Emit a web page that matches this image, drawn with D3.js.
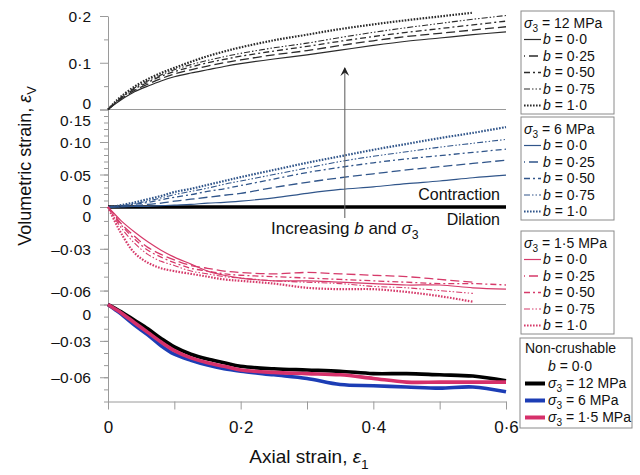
<!DOCTYPE html>
<html>
<head>
<meta charset="utf-8">
<script src="https://cdn.jsdelivr.net/npm/d3@7"></script>
<style>
body { margin: 0; background: #fff; }
text { font-family: "Liberation Sans", Arial, sans-serif; fill: #111; }
</style>
</head>
<body>
<script>
//axial strain grid shared by every series
var strain = [0, 0.01, 0.02, 0.04, 0.06, 0.08, 0.1, 0.125, 0.15, 0.175, 0.2, 0.25, 0.3, 0.35, 0.4, 0.45, 0.5, 0.55, 0.6];

var bLabels = ["0·0", "0·25", "0·50", "0·75", "1·0"];

//sigma3 = 12 MPa, one array per b value
var s12 = [
    [0, 0.011, 0.021, 0.038, 0.050, 0.061, 0.070, 0.078, 0.085, 0.092, 0.098, 0.108, 0.117, 0.127, 0.137, 0.146, 0.153, 0.160, 0.166],
    [0, 0.012, 0.023, 0.041, 0.054, 0.066, 0.076, 0.085, 0.093, 0.100, 0.106, 0.117, 0.126, 0.137, 0.147, 0.156, 0.163, 0.170, 0.177],
    [0, 0.013, 0.025, 0.044, 0.058, 0.071, 0.081, 0.091, 0.100, 0.107, 0.114, 0.125, 0.135, 0.146, 0.156, 0.165, 0.173, 0.181, 0.189],
    [0, 0.014, 0.026, 0.046, 0.061, 0.074, 0.085, 0.096, 0.105, 0.113, 0.120, 0.132, 0.142, 0.154, 0.165, 0.175, 0.184, 0.193, 0.201],
    [0, 0.015, 0.028, 0.049, 0.065, 0.078, 0.089, 0.102, 0.114, 0.124, 0.133, 0.148, 0.160, 0.172, 0.182, 0.191, 0.199, 0.207, null]
];

//sigma3 = 6 MPa
var s6 = [
    [0, 0, 0, 0.001, 0.001, 0.002, 0.003, 0.004, 0.006, 0.007, 0.009, 0.014, 0.021, 0.027, 0.031, 0.036, 0.040, 0.045, 0.049],
    [0, 0, 0.001, 0.002, 0.004, 0.006, 0.009, 0.012, 0.015, 0.018, 0.021, 0.030, 0.038, 0.045, 0.051, 0.057, 0.062, 0.067, 0.072],
    [0, 0, 0.001, 0.004, 0.007, 0.011, 0.015, 0.019, 0.024, 0.028, 0.033, 0.043, 0.053, 0.061, 0.068, 0.074, 0.079, 0.084, 0.089],
    [0, 0, 0.002, 0.005, 0.009, 0.014, 0.019, 0.024, 0.029, 0.035, 0.040, 0.050, 0.060, 0.070, 0.078, 0.085, 0.092, 0.098, 0.104],
    [0, 0.001, 0.003, 0.007, 0.012, 0.017, 0.023, 0.028, 0.034, 0.040, 0.046, 0.057, 0.068, 0.078, 0.088, 0.097, 0.106, 0.114, 0.123]
];

//sigma3 = 1.5 MPa
var s15 = [
    [0, -0.005, -0.010, -0.018, -0.025, -0.031, -0.036, -0.041, -0.046, -0.049, -0.051, -0.053, -0.053, -0.054, -0.055, -0.056, -0.056, -0.058, -0.059],
    [0, -0.006, -0.012, -0.021, -0.029, -0.034, -0.038, -0.042, -0.044, -0.046, -0.047, -0.048, -0.047, -0.048, -0.049, -0.050, -0.052, -0.054, null],
    [0, -0.007, -0.013, -0.023, -0.031, -0.036, -0.040, -0.044, -0.046, -0.048, -0.049, -0.050, -0.051, -0.052, -0.053, -0.054, -0.055, -0.055, -0.056],
    [0, -0.008, -0.015, -0.026, -0.034, -0.039, -0.042, -0.046, -0.048, -0.050, -0.051, -0.053, -0.054, -0.055, -0.057, -0.058, -0.060, -0.062, null],
    [0, -0.010, -0.019, -0.033, -0.040, -0.044, -0.046, -0.048, -0.050, -0.052, -0.053, -0.055, -0.058, -0.059, -0.059, -0.061, -0.064, -0.068, null]
];

//non-crushable, b = 0.0
var ncLabels = ["12", "6", "1·5"];
var nc = [
    [0, -0.003, -0.006, -0.013, -0.020, -0.028, -0.035, -0.041, -0.045, -0.048, -0.051, -0.053, -0.054, -0.055, -0.057, -0.057, -0.058, -0.059, -0.063],
    [0, -0.004, -0.008, -0.017, -0.025, -0.034, -0.041, -0.046, -0.050, -0.053, -0.055, -0.058, -0.061, -0.066, -0.067, -0.068, -0.069, -0.068, -0.072],
    [0, -0.0035, -0.007, -0.015, -0.023, -0.031, -0.038, -0.044, -0.048, -0.051, -0.054, -0.056, -0.057, -0.058, -0.061, -0.064, -0.064, -0.064, -0.064]
];

var w = 640, h = 475;
var axisGrey = "#9a9a9a";

//line styles for b = 0, 0.25, 0.5, 0.75, 1.0
var dash = ["none", "9,4", "6,3,2,3", "6,2,1.5,2,1.5,2", "1.6,1.4"];
var widths = [1.2, 1.3, 1.3, 1.1, 2.2];

var svg = d3.select("body").append("svg")
    .attr("width", w)
    .attr("height", h)
    .style("background", "#fff");

var x = d3.scaleLinear().domain([0, 0.6]).range([108, 506]);

//one y scale per panel
var panels = [
    { y: d3.scaleLinear().domain([0, 0.2]).range([109.5, 16]), major: [0, 0.1, 0.2], minor: [0.05, 0.15], fmt: ".1f", shift: { "0": -7 } },
    { y: d3.scaleLinear().domain([0, 0.15]).range([207, 109.5]), major: [0, 0.05, 0.10, 0.15], minor: d3.range(1, 15).map(function(i){ return i / 100; }), fmt: ".2f", shift: { "0": -8, "0.15": 10 } },
    { y: d3.scaleLinear().domain([-0.07, 0]).range([304.5, 207]), major: [0, -0.03, -0.06], minor: d3.range(-7, 0).map(function(i){ return i / 100; }), fmt: ".2f", shift: { "0": 9 } },
    { y: d3.scaleLinear().domain([-0.08, 0]).range([401.5, 304.5]), major: [0, -0.03, -0.06], minor: d3.range(-8, 0).map(function(i){ return i / 100; }), fmt: ".2f", shift: { "0": 9 } }
];

function tickText(fmt){
    var f = d3.format(fmt);
    return function(d){
        if (d === 0) return "0";
        return f(d).replace(".", "·").replace("-", "–").replace("−", "–");
    };
}

//y axes, minor ticks first then labelled major ticks
panels.forEach(function(p){
    svg.append("g")
        .attr("transform", "translate(108,0)")
        .call(d3.axisLeft(p.y).tickValues(p.minor).tickSize(4).tickSizeOuter(0).tickFormat(""))
        .call(function(g){ g.select(".domain").remove(); });

    var g = svg.append("g")
        .attr("transform", "translate(108,0)")
        .call(d3.axisLeft(p.y).tickValues(p.major).tickSize(8).tickPadding(9).tickSizeOuter(0).tickFormat(tickText(p.fmt)));
    g.selectAll("text")
        .style("font-size", "15.5px")
        .attr("dy", function(d){
            var s = p.shift[String(d)] || 0;
            return (5.5 + s) + "px";
        });
});
svg.selectAll(".tick line, .domain").attr("stroke", axisGrey);

//x axis
var xAxis = svg.append("g")
    .attr("transform", "translate(0,401.5)")
    .call(d3.axisBottom(x).tickValues([0, 0.1, 0.2, 0.3, 0.4, 0.5, 0.6]).tickSize(8).tickPadding(11).tickSizeOuter(0)
        .tickFormat(function(d){
            var k = Math.round(d * 10);
            return k % 2 === 0 ? tickText(".1f")(d) : "";
        }));
xAxis.selectAll("text").style("font-size", "17px");
xAxis.selectAll(".tick line, .domain").attr("stroke", axisGrey);

//panel separators
[panels[0].y(0), panels[2].y(-0.07)].forEach(function(yy){
    svg.append("line")
        .attr("x1", x(0)).attr("x2", x(0.6))
        .attr("y1", yy).attr("y2", yy)
        .attr("stroke", axisGrey)
        .attr("stroke-width", 1.2);
});

//contraction / dilation line
svg.append("line")
    .attr("x1", x(0)).attr("x2", x(0.6))
    .attr("y1", panels[1].y(0)).attr("y2", panels[1].y(0))
    .attr("stroke", "#000")
    .attr("stroke-width", 3.5);

function drawGroup(p, series, colours, styleFor){
    var line = d3.line()
        .defined(function(d){ return d[1] !== null; })
        .x(function(d){ return x(d[0]); })
        .y(function(d){ return p.y(d[1]); })
        .curve(d3.curveCatmullRom.alpha(0.5));
    series.forEach(function(vals, i){
        var st = styleFor(i);
        svg.append("path")
            .datum(strain.map(function(e, j){ return [e, vals[j]]; }))
            .attr("d", line)
            .attr("fill", "none")
            .attr("stroke", Array.isArray(colours) ? colours[i] : colours)
            .attr("stroke-width", st.w)
            .attr("stroke-dasharray", st.d)
            .attr("stroke-linejoin", "round");
    });
}

var bStyle = function(i){ return { w: widths[i], d: dash[i] }; };
var c12 = "#2b2b2b", c6 = "#30558a", c15 = "#d63a6a";
var ncColours = ["#000000", "#1c3db5", "#d6306a"];

drawGroup(panels[0], s12, c12, bStyle);
drawGroup(panels[1], s6, c6, bStyle);
drawGroup(panels[2], s15, c15, bStyle);
drawGroup(panels[3], [nc[1], nc[0], nc[2]], [ncColours[1], ncColours[0], ncColours[2]], function(){ return { w: 3.6, d: "none" }; });

//annotations
svg.append("defs").append("marker")
    .attr("id", "head")
    .attr("viewBox", "0 0 10 10")
    .attr("refX", 9).attr("refY", 5)
    .attr("markerWidth", 9).attr("markerHeight", 9)
    .attr("markerUnits", "userSpaceOnUse")
    .attr("orient", "auto")
    .append("path")
    .attr("d", "M0,0 L10,5 L0,10 L4,5 Z")
    .attr("fill", "#222");

svg.append("line")
    .attr("x1", x(0.357)).attr("x2", x(0.357))
    .attr("y1", 218).attr("y2", 68)
    .attr("stroke", "#666")
    .attr("stroke-width", 1.1)
    .attr("marker-end", "url(#head)");

svg.append("text")
    .attr("x", 500).attr("y", 200)
    .attr("text-anchor", "end")
    .style("font-size", "16px")
    .text("Contraction");

svg.append("text")
    .attr("x", 500).attr("y", 225)
    .attr("text-anchor", "end")
    .style("font-size", "16px")
    .text("Dilation");

//text with italic symbols and subscripts
function rich(sel, parts, size){
    parts.forEach(function(pt){
        var t = sel.append("tspan").text(pt.t);
        if (pt.i) t.style("font-style", "italic");
        if (pt.sub) {
            t.attr("dy", size * 0.3).style("font-size", (size * 0.72) + "px");
        }
        if (pt.up) t.attr("dy", -size * 0.3);
    });
    return sel;
}

rich(svg.append("text")
    .attr("x", x(0.357)).attr("y", 234)
    .attr("text-anchor", "middle")
    .style("font-size", "17px"),
    [{ t: "Increasing " }, { t: "b", i: true }, { t: " and " }, { t: "σ", i: true }, { t: "3", sub: true }], 17);

//axis titles
rich(svg.append("text")
    .attr("x", 309).attr("y", 463)
    .attr("text-anchor", "middle")
    .style("font-size", "19px"),
    [{ t: "Axial strain, " }, { t: "ε", i: true }, { t: "1", sub: true }], 19);

rich(svg.append("text")
    .attr("transform", "translate(31,166) rotate(-90)")
    .attr("text-anchor", "middle")
    .style("font-size", "18px"),
    [{ t: "Volumetric strain, " }, { t: "ε", i: true }, { t: "V", sub: true }], 18);

//legends
var legendColours = [c12, c6, c15];
var legendTitles = ["12", "6", "1·5"];
var legendTops = [11, 117, 231];

legendTops.forEach(function(top, k){
    var g = svg.append("g");
    g.append("rect")
        .attr("x", 521).attr("y", top)
        .attr("width", 93).attr("height", 103)
        .attr("fill", "#fff")
        .attr("stroke", "#8a8a8a");
    rich(g.append("text").attr("x", 524).attr("y", top + 17).style("font-size", "14px"),
        [{ t: "σ", i: true }, { t: "3", sub: true }, { t: " = " + legendTitles[k] + " MPa", up: true }], 14);
    bLabels.forEach(function(b, i){
        var yy = top + 33 + 16.5 * i;
        g.append("line")
            .attr("x1", 524).attr("x2", 541)
            .attr("y1", yy - 4.5).attr("y2", yy - 4.5)
            .attr("stroke", legendColours[k])
            .attr("stroke-width", widths[i])
            .attr("stroke-dasharray", dash[i])
            .attr("stroke-dashoffset", i === 1 ? -5 : 0);
        rich(g.append("text").attr("x", 543).attr("y", yy).style("font-size", "14px"),
            [{ t: "b", i: true }, { t: " = " + b }], 14);
    });
});

var ng = svg.append("g");
ng.append("rect")
    .attr("x", 520).attr("y", 338)
    .attr("width", 112).attr("height", 90)
    .attr("fill", "#fff")
    .attr("stroke", "#8a8a8a");
ng.append("text").attr("x", 525).attr("y", 353).style("font-size", "14px").text("Non-crushable");
rich(ng.append("text").attr("x", 548).attr("y", 371).style("font-size", "14px"),
    [{ t: "b", i: true }, { t: " = 0·0" }], 14);
ncLabels.forEach(function(s, i){
    var yy = 388 + 17 * i;
    ng.append("line")
        .attr("x1", 525).attr("x2", 545)
        .attr("y1", yy - 4.5).attr("y2", yy - 4.5)
        .attr("stroke", ncColours[i])
        .attr("stroke-width", 4);
    rich(ng.append("text").attr("x", 548).attr("y", yy).style("font-size", "14px"),
        [{ t: "σ", i: true }, { t: "3", sub: true }, { t: " = " + s + " MPa", up: true }], 14);
});
</script>
</body>
</html>
